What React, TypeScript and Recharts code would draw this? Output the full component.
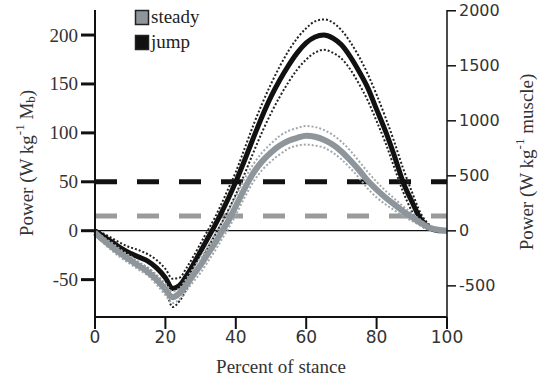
import React from "react";
import { LineChart, Line, XAxis, YAxis, ReferenceLine } from "recharts";

// percent of stance
const percent = [0, 2.5, 5, 7.5, 10, 12.5, 15, 17.5, 20, 22, 24, 26, 28, 30, 32, 34, 36, 38, 40, 42.5, 45, 47.5, 50, 52.5, 55, 57.5, 60, 62.5, 65, 67.5, 70, 72.5, 75, 77.5, 80, 82.5, 85, 87.5, 90, 92.5, 95, 97.5, 100];

// jump (W kg-1 Mb)
const jumpMean = [0, -6, -12, -18, -23, -27, -31, -38, -48, -59, -56, -46, -34, -21, -8, 5, 19, 34, 50, 72, 95, 117, 137, 154, 169, 182, 192, 198, 200, 197, 190, 178, 163, 146, 124, 102, 77, 50, 30, 12, 3, 0, 0];
const jumpUpper = [0, -3, -8, -13, -17, -20, -24, -30, -39, -49, -48, -38, -26, -13, 0, 13, 28, 44, 60, 84, 108, 130, 150, 168, 184, 197, 207, 214, 216, 213, 205, 193, 178, 160, 139, 116, 91, 64, 40, 18, 6, 1, 0];
const jumpLower = [0, -8, -15, -22, -28, -33, -38, -46, -58, -78, -72, -60, -46, -32, -18, -5, 8, 22, 37, 58, 80, 101, 120, 137, 152, 165, 175, 182, 185, 182, 176, 165, 150, 133, 112, 90, 65, 40, 20, 6, 1, 0, 0];

// steady (W kg-1 Mb)
const steadyMean = [-2, -10, -17, -24, -30, -36, -42, -50, -60, -68, -64, -55, -45, -35, -24, -13, -1, 11, 25, 43, 59, 71, 80, 87, 92, 95, 97, 96, 93, 88, 81, 72, 62, 51, 42, 34, 27, 20, 14, 8, 3, 1, 0];
const steadyUpper = [0, -7, -13, -20, -26, -32, -38, -45, -54, -62, -59, -49, -38, -27, -16, -4, 8, 21, 35, 53, 68, 80, 89, 97, 102, 105, 107, 106, 103, 98, 91, 82, 71, 60, 50, 41, 33, 25, 18, 11, 5, 2, 0];
const steadyLower = [-4, -13, -21, -28, -34, -40, -46, -55, -66, -74, -70, -61, -52, -43, -32, -21, -9, 3, 16, 34, 50, 62, 71, 78, 84, 87, 88, 87, 85, 80, 73, 64, 54, 43, 34, 27, 21, 15, 10, 5, 1, 0, 0];

const xTicks = [0, 20, 40, 60, 80, 100];
const leftTicks = [-50, 0, 50, 100, 150, 200];
const rightTicks = [-500, 0, 500, 1000, 1500, 2000];

const seriesNames = ["steady", "jump"];

const steadyThreshold = 15;
const jumpThreshold = 50;

const data = percent.map((x, i) => ({
  x,
  jumpMean: jumpMean[i],
  jumpUpper: jumpUpper[i],
  jumpLower: jumpLower[i],
  steadyMean: steadyMean[i],
  steadyUpper: steadyUpper[i],
  steadyLower: steadyLower[i],
}));

const GRAY = "#8e969b";
const serif = "Liberation Serif";
const sans = "DejaVu Sans";

function LeftTick(props: any) {
  const { x, y, payload } = props;
  return (
    <text x={x} y={y} textAnchor="end" dominantBaseline="central" fontFamily={serif} fontSize={19} fill="#333">
      {payload.value}
    </text>
  );
}

function RightTick(props: any) {
  const { x, y, payload } = props;
  return (
    <text x={x} y={y} textAnchor="start" dominantBaseline="central" fontFamily={sans} fontSize={16} fill="#333">
      {payload.value}
    </text>
  );
}

function BottomTick(props: any) {
  const { x, y, payload } = props;
  return (
    <text x={x} y={y + 12} textAnchor="middle" fontFamily={sans} fontSize={17} fill="#333">
      {payload.value}
    </text>
  );
}

function BottomTitle() {
  return (
    <text x={281} y={373} textAnchor="middle" fontFamily={serif} fontSize={19} fill="#333">
      Percent of stance
    </text>
  );
}

function LeftTitle() {
  const cx = 26;
  const cy = 163;
  return (
    <text transform={`rotate(-90, ${cx}, ${cy})`} x={cx} y={cy} textAnchor="middle" dominantBaseline="central" fontFamily={serif} fontSize={19} fill="#333">
      Power (W kg<tspan dy={-7} fontSize={13}>-1</tspan>
      <tspan dy={7}> M</tspan>
      <tspan dy={4} fontSize={13}>b</tspan>
      <tspan dy={-4}>)</tspan>
    </text>
  );
}

function RightTitle() {
  const cx = 526;
  const cy = 162;
  return (
    <text transform={`rotate(-90, ${cx}, ${cy})`} x={cx} y={cy} textAnchor="middle" dominantBaseline="central" fontFamily={serif} fontSize={19} fill="#333">
      Power (W kg<tspan dy={-7} fontSize={13}>-1</tspan>
      <tspan dy={7}> muscle)</tspan>
    </text>
  );
}

function LegendBox() {
  const colors = [GRAY, "#111"];
  return (
    <svg width={100} height={60} style={{ position: "absolute", left: 130, top: 0 }}>
      {seriesNames.map((name, i) => (
        <g key={name}>
          <rect x={5.5} y={10.5 + i * 25} width={13} height={14} fill={colors[i]} stroke="#222" strokeWidth={1.5} />
          <text x={21} y={23 + i * 25} fontFamily={serif} fontSize={19} fill="#222">
            {name}
          </text>
        </g>
      ))}
    </svg>
  );
}

export default function App() {
  return (
    <div style={{ position: "absolute", left: 0, top: 0, width: 543, height: 379, background: "#fff" }}>
      <LineChart width={543} height={379} data={data} margin={{ top: 10, right: 0, bottom: 0, left: 0 }}>
        <XAxis
          dataKey="x"
          type="number"
          domain={[0, 100]}
          ticks={xTicks}
          height={62}
          tickSize={12}
          tickMargin={2}
          axisLine={{ stroke: "#111", strokeWidth: 2 }}
          tickLine={{ stroke: "#111", strokeWidth: 2 }}
          tick={<BottomTick />}
          label={{ content: () => <BottomTitle /> }}
        />
        <YAxis
          yAxisId="left"
          domain={[-88.2, 225.6]}
          ticks={leftTicks}
          width={95}
          tickSize={14}
          tickMargin={3}
          allowDataOverflow
          axisLine={{ stroke: "#111", strokeWidth: 2 }}
          tickLine={{ stroke: "#111", strokeWidth: 3 }}
          tick={<LeftTick />}
          label={{ content: () => <LeftTitle /> }}
        />
        <YAxis
          yAxisId="right"
          orientation="right"
          domain={[-783, 2007]}
          ticks={rightTicks}
          width={96}
          tickSize={9}
          tickMargin={3}
          allowDataOverflow
          axisLine={{ stroke: "#111", strokeWidth: 1.5 }}
          tickLine={{ stroke: "#111", strokeWidth: 1.5 }}
          tick={<RightTick />}
          label={{ content: () => <RightTitle /> }}
        />
        <ReferenceLine yAxisId="left" y={0} stroke="#111" strokeWidth={1.2} />
        <ReferenceLine yAxisId="left" y={jumpThreshold} stroke="#111" strokeWidth={5} strokeDasharray="22 20" />
        <ReferenceLine yAxisId="left" y={steadyThreshold} stroke="#9a9a9a" strokeWidth={5} strokeDasharray="22 20" />
        <Line yAxisId="left" dataKey="jumpUpper" type="monotone" stroke="#222" strokeWidth={2} strokeDasharray="2 2" dot={false} isAnimationActive={false} />
        <Line yAxisId="left" dataKey="jumpLower" type="monotone" stroke="#222" strokeWidth={2} strokeDasharray="2 2" dot={false} isAnimationActive={false} />
        <Line yAxisId="left" dataKey="jumpMean" type="monotone" stroke="#111" strokeWidth={5} dot={false} isAnimationActive={false} />
        <Line yAxisId="left" dataKey="steadyUpper" type="monotone" stroke="#a2a8ac" strokeWidth={2} strokeDasharray="2 2" dot={false} isAnimationActive={false} />
        <Line yAxisId="left" dataKey="steadyLower" type="monotone" stroke="#a2a8ac" strokeWidth={2} strokeDasharray="2 2" dot={false} isAnimationActive={false} />
        <Line yAxisId="left" dataKey="steadyMean" type="monotone" stroke={GRAY} strokeWidth={6} dot={false} isAnimationActive={false} />
      </LineChart>
      <LegendBox />
    </div>
  );
}
